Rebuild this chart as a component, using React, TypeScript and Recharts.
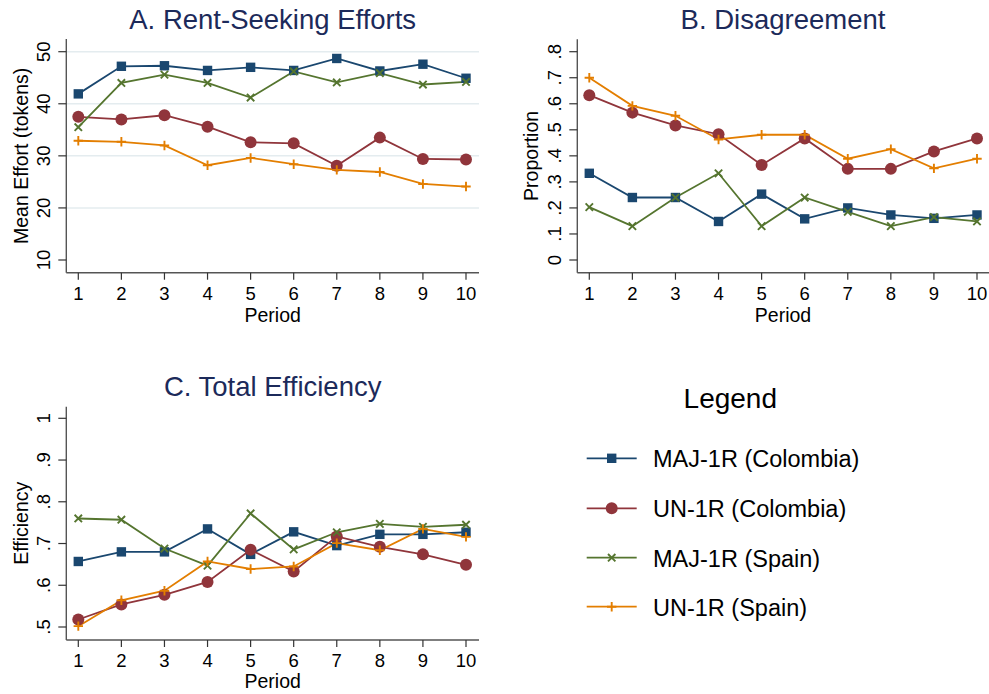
import React from 'react';
import { LineChart, Line, XAxis, YAxis, ReferenceLine } from 'recharts';

const FONT = '"Liberation Sans", Arial, Helvetica, sans-serif';

// ---------- data ----------
const periods = [1, 2, 3, 4, 5, 6, 7, 8, 9, 10];

// A. Rent-Seeking Efforts (mean effort, tokens)
const effortMajCol = [41.9, 47.2, 47.3, 46.4, 47.0, 46.4, 48.7, 46.3, 47.6, 44.9];
const effortUnCol = [37.5, 37.0, 37.8, 35.6, 32.6, 32.4, 28.1, 33.5, 29.4, 29.3];
const effortMajSpa = [35.5, 44.0, 45.6, 44.0, 41.2, 46.2, 44.1, 45.9, 43.7, 44.2];
const effortUnSpa = [32.9, 32.7, 32.0, 28.2, 29.6, 28.4, 27.3, 26.9, 24.6, 24.1];

// B. Disagreement (proportion)
const disMajCol = [0.333, 0.24, 0.24, 0.148, 0.253, 0.158, 0.2, 0.173, 0.16, 0.173];
const disUnCol = [0.633, 0.566, 0.517, 0.483, 0.365, 0.467, 0.35, 0.35, 0.417, 0.467];
const disMajSpa = [0.203, 0.13, 0.24, 0.333, 0.13, 0.24, 0.185, 0.13, 0.165, 0.148];
const disUnSpa = [0.7, 0.592, 0.554, 0.463, 0.481, 0.481, 0.389, 0.426, 0.352, 0.389];

// C. Total Efficiency
const effMajCol = [0.657, 0.68, 0.68, 0.735, 0.674, 0.728, 0.695, 0.722, 0.722, 0.727];
const effUnCol = [0.518, 0.554, 0.577, 0.608, 0.685, 0.633, 0.717, 0.692, 0.674, 0.649];
const effMajSpa = [0.76, 0.757, 0.688, 0.647, 0.772, 0.686, 0.727, 0.747, 0.74, 0.745];
const effUnSpa = [0.502, 0.564, 0.587, 0.657, 0.639, 0.645, 0.701, 0.684, 0.735, 0.716];

// tick values
const ticksA = [10, 20, 30, 40, 50];
const gridA = [20, 30, 40, 50];
const ticksB = [0, 0.1, 0.2, 0.3, 0.4, 0.5, 0.6, 0.7, 0.8];
const ticksC = [0.5, 0.6, 0.7, 0.8, 0.9, 1];

// series
const seriesNames = ['MAJ-1R (Colombia)', 'UN-1R (Colombia)', 'MAJ-1R (Spain)', 'UN-1R (Spain)'];
const seriesKeys = ['majCol', 'unCol', 'majSpa', 'unSpa'];
const seriesColors = ['#1a476f', '#90353b', '#55752f', '#e37e00'];
const seriesShapes = ['square', 'circle', 'x', 'plus'];

const buildRows = (a: number[], b: number[], c: number[], d: number[]) =>
  periods.map((p, i) => ({ period: p, majCol: a[i], unCol: b[i], majSpa: c[i], unSpa: d[i] }));

const dataA = buildRows(effortMajCol, effortUnCol, effortMajSpa, effortUnSpa);
const dataB = buildRows(disMajCol, disUnCol, disMajSpa, disUnSpa);
const dataC = buildRows(effMajCol, effUnCol, effMajSpa, effUnSpa);

const fmtStata = (v: number) => {
  if (Math.abs(v) < 1e-9) return '0';
  if (Math.abs(v - 1) < 1e-9) return '1';
  return v.toFixed(1).replace(/^0/, '');
};
const fmtInt = (v: number) => String(v);

// ---------- markers ----------
function Marker({ shape, cx, cy, color }: any) {
  if (cx == null || cy == null) return null;
  if (shape === 'square') return <rect x={cx - 4.7} y={cy - 4.7} width={9.4} height={9.4} fill={color} />;
  if (shape === 'circle') return <circle cx={cx} cy={cy} r={6} fill={color} />;
  if (shape === 'x') {
    const s = 3.7;
    return (
      <path
        d={`M${cx - s},${cy - s}L${cx + s},${cy + s}M${cx - s},${cy + s}L${cx + s},${cy - s}`}
        stroke={color}
        strokeWidth={1.9}
        fill="none"
      />
    );
  }
  const s = 4.7;
  return (
    <path
      d={`M${cx - s},${cy}L${cx + s},${cy}M${cx},${cy - s}L${cx},${cy + s}`}
      stroke={color}
      strokeWidth={1.9}
      fill="none"
    />
  );
}

function RotTick(props: any) {
  const { x, y, payload, fmt } = props;
  return (
    <text
      x={x}
      y={y}
      transform={`rotate(-90 ${x} ${y})`}
      textAnchor="middle"
      fontSize={18.5}
      fontFamily={FONT}
      fill="#000"
    >
      {fmt(payload.value)}
    </text>
  );
}

type PanelProps = {
  data: any[];
  width: number;
  height: number;
  margin: any;
  yWidth: number;
  xHeight: number;
  yDomain: number[];
  yTicks: number[];
  yPad: any;
  xPad: any;
  fmt: (v: number) => string;
  grid?: number[];
};

function Panel(p: PanelProps) {
  return (
    <LineChart width={p.width} height={p.height} data={p.data} margin={p.margin}>
      {(p.grid || []).map((g) => (
        <ReferenceLine key={g} y={g} stroke="#e4ecef" strokeWidth={1.5} />
      ))}
      <XAxis
        dataKey="period"
        type="number"
        domain={[1, 10]}
        ticks={periods}
        interval={0}
        padding={p.xPad}
        height={p.xHeight}
        tickSize={7}
        tickMargin={7}
        axisLine={{ stroke: '#555', strokeWidth: 1.4 }}
        tickLine={{ stroke: '#333', strokeWidth: 1.2 }}
        tick={{ fontSize: 18.5, fill: '#000', fontFamily: FONT }}
      />
      <YAxis
        type="number"
        domain={p.yDomain}
        ticks={p.yTicks}
        interval={0}
        padding={p.yPad}
        width={p.yWidth}
        tickSize={8}
        tickMargin={8}
        axisLine={{ stroke: '#555', strokeWidth: 1.4 }}
        tickLine={{ stroke: '#333', strokeWidth: 1.2 }}
        tick={(tp: any) => <RotTick {...tp} fmt={p.fmt} />}
      />
      {seriesKeys.map((k, i) => (
        <Line
          key={k}
          dataKey={k}
          name={seriesNames[i]}
          stroke={seriesColors[i]}
          strokeWidth={1.8}
          isAnimationActive={false}
          dot={(dp: any) => (
            <Marker key={`${k}-${dp.index}`} shape={seriesShapes[i]} cx={dp.cx} cy={dp.cy} color={seriesColors[i]} />
          )}
          activeDot={false}
        />
      ))}
    </LineChart>
  );
}

const TITLE_COLOR = '#1c2a5a';

export default function App() {
  const legendRows = [458.3, 508.3, 557.7, 606.7];
  return (
    <div style={{ position: 'absolute', left: 0, top: 0, width: 989, height: 694, background: '#fff', fontFamily: FONT }}>
      <div style={{ position: 'absolute', left: 0, top: 0 }}>
        <Panel
          data={dataA}
          width={490}
          height={340}
          margin={{ top: 39, right: 11, bottom: 0, left: 0 }}
          yWidth={66.3}
          xHeight={67.3}
          yDomain={[10, 50]}
          yTicks={ticksA}
          yPad={{ top: 12.7, bottom: 12.7 }}
          xPad={{ left: 12, right: 13 }}
          fmt={fmtInt}
          grid={gridA}
        />
      </div>
      <div style={{ position: 'absolute', left: 490, top: 0 }}>
        <Panel
          data={dataB}
          width={499}
          height={340}
          margin={{ top: 39.3, right: 0, bottom: 0, left: 0 }}
          yWidth={87.3}
          xHeight={67.3}
          yDomain={[0, 0.8]}
          yTicks={ticksB}
          yPad={{ top: 12.4, bottom: 12.7 }}
          xPad={{ left: 12, right: 12 }}
          fmt={fmtStata}
        />
      </div>
      <div style={{ position: 'absolute', left: 0, top: 340 }}>
        <Panel
          data={dataC}
          width={490}
          height={354}
          margin={{ top: 66.7, right: 11, bottom: 0, left: 0 }}
          yWidth={66.3}
          xHeight={54}
          yDomain={[0.5, 1]}
          yTicks={ticksC}
          yPad={{ top: 11.6, bottom: 13 }}
          xPad={{ left: 12, right: 13 }}
          fmt={fmtStata}
        />
      </div>
      <svg
        width={989}
        height={694}
        style={{ position: 'absolute', left: 0, top: 0, pointerEvents: 'none' }}
        fontFamily={FONT}
      >
        {/* panel titles */}
        <text x={272.7} y={29.3} textAnchor="middle" fontSize={27.5} fill={TITLE_COLOR}>A. Rent-Seeking Efforts</text>
        <text x={783} y={29.3} textAnchor="middle" fontSize={27.5} fill={TITLE_COLOR}>B. Disagreement</text>
        <text x={272.7} y={396} textAnchor="middle" fontSize={27.5} fill={TITLE_COLOR}>C. Total Efficiency</text>
        {/* x-axis titles */}
        <text x={272.7} y={321.7} textAnchor="middle" fontSize={19.5} fill="#000">Period</text>
        <text x={783} y={321.7} textAnchor="middle" fontSize={19.5} fill="#000">Period</text>
        <text x={272.7} y={688.3} textAnchor="middle" fontSize={19.5} fill="#000">Period</text>
        {/* y-axis titles */}
        <text x={28.3} y={155.9} transform="rotate(-90 28.3 155.9)" textAnchor="middle" fontSize={19.5} fill="#000">Mean Effort (tokens)</text>
        <text x={538.3} y={155.9} transform="rotate(-90 538.3 155.9)" textAnchor="middle" fontSize={19.5} fill="#000">Proportion</text>
        <text x={28.3} y={523.3} transform="rotate(-90 28.3 523.3)" textAnchor="middle" fontSize={19.5} fill="#000">Efficiency</text>
        {/* legend */}
        <text x={730.3} y={407.7} textAnchor="middle" fontSize={28} fill="#000">Legend</text>
        {seriesNames.map((n, i) => (
          <g key={n}>
            <line x1={586.7} x2={636.7} y1={legendRows[i]} y2={legendRows[i]} stroke={seriesColors[i]} strokeWidth={1.8} />
            <Marker shape={seriesShapes[i]} cx={611.7} cy={legendRows[i]} color={seriesColors[i]} />
            <text x={653} y={legendRows[i] + 9} fontSize={23.5} fill="#000">{n}</text>
          </g>
        ))}
      </svg>
    </div>
  );
}
